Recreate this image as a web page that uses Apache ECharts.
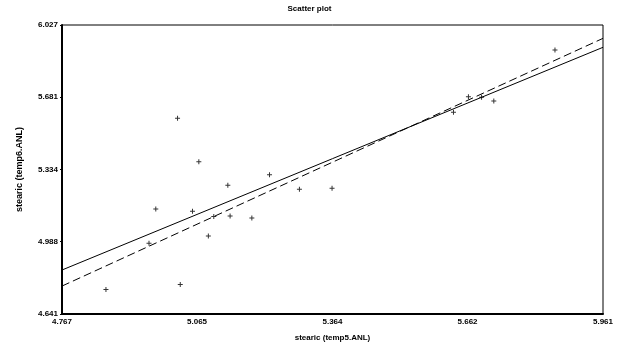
<!DOCTYPE html>
<html>
<head>
<meta charset="utf-8">
<script src="https://cdn.jsdelivr.net/npm/echarts@6/dist/echarts.min.js"></script>
<style>html,body{margin:0;padding:0;background:#fff}#c{width:619px;height:347px}</style>
</head>
<body>
<div id="c"></div>
<script>
var xTicks = [4.767, 5.065, 5.364, 5.662, 5.961];
var yTicks = [4.641, 4.988, 5.334, 5.681, 6.027];
var xTickLabels = ['4.767', '5.065', '5.364', '5.662', '5.961'];
var yTickLabels = ['4.641', '4.988', '5.334', '5.681', '6.027'];
var pointsX = [4.864, 4.959, 4.974, 5.028, 5.055, 5.090, 5.102, 5.133, 5.138, 5.186, 5.225, 5.291, 5.363, 5.022, 5.069, 5.631, 5.664, 5.693, 5.720, 5.855];
var pointsY = [4.759, 4.980, 5.145, 4.782, 5.134, 5.015, 5.108, 5.258, 5.111, 5.101, 5.309, 5.239, 5.244, 5.580, 5.371, 5.608, 5.683, 5.680, 5.663, 5.907];
var solidLineX = [4.767, 5.961];
var solidLineY = [4.852, 5.920];
var dashedLineX = [4.767, 5.961];
var dashedLineY = [4.775, 5.963];

function zip(a, b) { return a.map(function (v, i) { return [v, b[i]]; }); }

var font = 'Liberation Sans';
var chart = echarts.init(document.getElementById('c'), null, {renderer: 'canvas'});
chart.setOption({
  animation: false,
  backgroundColor: '#fff',
  title: {
    text: 'Scatter plot', left: 'center', top: 0,
    textStyle: {fontFamily: font, fontSize: 8, fontWeight: 'bold', color: '#000'}
  },
  grid: {left: 62, right: 16, top: 25, bottom: 33, show: true, borderColor: '#000', borderWidth: 1},
  xAxis: {
    type: 'value', min: xTicks[0], max: xTicks[xTicks.length - 1],
    name: 'stearic (temp5.ANL)', nameLocation: 'middle', nameGap: 20,
    nameTextStyle: {fontFamily: font, fontSize: 8, fontWeight: 'bold', color: '#000'},
    axisLine: {show: true, onZero: false, lineStyle: {color: '#000', width: 2}},
    axisTick: {show: false, customValues: xTicks},
    splitLine: {show: false},
    axisLabel: {
      customValues: xTicks, margin: 4,
      fontFamily: font, fontSize: 8, fontWeight: 'bold', color: '#000',
      formatter: function (v) { var i = xTicks.indexOf(v); return i >= 0 ? xTickLabels[i] : ''; }
    }
  },
  yAxis: {
    type: 'value', min: yTicks[0], max: yTicks[yTicks.length - 1],
    name: 'stearic (temp6.ANL)', nameLocation: 'middle', nameGap: 38, nameRotate: 90,
    nameTextStyle: {fontFamily: font, fontSize: 9, fontWeight: 'bold', color: '#000'},
    axisLine: {show: true, onZero: false, lineStyle: {color: '#000', width: 2}},
    axisTick: {show: true, length: 2, customValues: yTicks, lineStyle: {color: '#000'}},
    splitLine: {show: false},
    axisLabel: {
      customValues: yTicks, margin: 4,
      fontFamily: font, fontSize: 8, fontWeight: 'bold', color: '#000',
      formatter: function (v) { var i = yTicks.indexOf(v); return i >= 0 ? yTickLabels[i] : ''; }
    }
  },
  series: [
    {
      type: 'line', data: zip(solidLineX, solidLineY), symbol: 'none',
      lineStyle: {color: '#000', width: 1}
    },
    {
      type: 'line', data: zip(dashedLineX, dashedLineY), symbol: 'none',
      lineStyle: {color: '#000', width: 1, type: [8, 4]}
    },
    {
      type: 'scatter', data: zip(pointsX, pointsY),
      symbol: 'path://M2,0H3V2H5V3H3V5H2V3H0V2H2Z', symbolSize: 5,
      itemStyle: {color: '#000'}
    }
  ]
});
</script>
</body>
</html>
